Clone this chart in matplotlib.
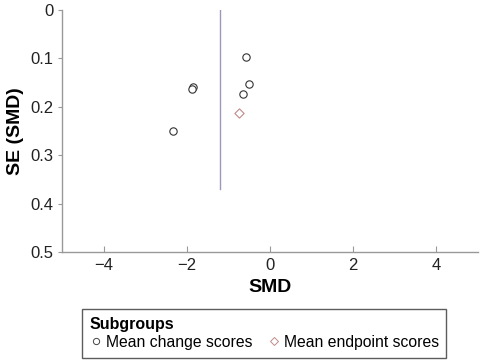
import matplotlib
matplotlib.use("Agg")
import matplotlib.pyplot as plt
from matplotlib.lines import Line2D

plt.rcParams['font.family'] = ['Liberation Sans', 'DejaVu Sans']

change_smd = [-0.58, -1.85, -1.87, -0.51, -0.64, -2.32]
change_se = [0.097, 0.160, 0.164, 0.153, 0.174, 0.249]
endpoint_smd = [-0.75]
endpoint_se = [0.212]
pooled_smd = -1.19
line_se_max = 0.37
xticks = [-4, -2, 0, 2, 4]
yticks = [0, 0.1, 0.2, 0.3, 0.4, 0.5]

fig = plt.figure(figsize=(4.8, 3.6), dpi=100)
ax = fig.add_axes([0.129, 0.30, 0.867, 0.672])

ax.plot([pooled_smd, pooled_smd], [0, line_se_max], color='#9a9ab8', lw=1.0, zorder=1)
ax.scatter(change_smd, change_se, marker='o', s=28, facecolors='white',
           edgecolors='#333333', linewidths=0.8, zorder=3)
ax.scatter(endpoint_smd, endpoint_se, marker='D', s=22, facecolors='white',
           edgecolors='#c08a8a', linewidths=0.8, zorder=3)

ax.set_xlim(-5, 5)
ax.set_ylim(0.5, 0)
ax.set_xticks(xticks)
ax.set_xticklabels(['\u22124', '\u22122', '0', '2', '4'])
ax.set_yticks(yticks)
ax.set_yticklabels(['0', '0.1', '0.2', '0.3', '0.4', '0.5'])
for s in ['top', 'right']:
    ax.spines[s].set_visible(False)
for s in ['left', 'bottom']:
    ax.spines[s].set_color('#999999')
    ax.spines[s].set_linewidth(1.0)
ax.tick_params(axis='x', direction='in', length=4, color='#999999', labelsize=12,
               labelcolor='#222222', pad=4)
ax.tick_params(axis='y', direction='out', length=3, color='#999999', labelsize=12,
               labelcolor='#222222', pad=3)
ax.set_xlabel('SMD', fontsize=14, fontweight='bold', labelpad=5)
ax.set_ylabel('SE (SMD)', fontsize=14, fontweight='bold', labelpad=5)

handles = [
    Line2D([], [], marker='o', ls='none', markerfacecolor='white', markeredgecolor='#444444',
           markersize=4.5, markeredgewidth=0.7),
    Line2D([], [], marker='D', ls='none', markerfacecolor='white', markeredgecolor='#c08a8a',
           markersize=4.0, markeredgewidth=0.7),
]
leg = fig.legend(handles, ['Mean change scores', 'Mean endpoint scores'], ncol=2,
                 title='Subgroups', loc='lower left', bbox_to_anchor=(0.171, 0.006),
                 fontsize=11.3, title_fontproperties={'weight': 'bold', 'size': 11.5},
                 alignment='left', frameon=True, fancybox=False, handletextpad=0.2,
                 handlelength=0.8, columnspacing=1.0, borderpad=0.5, borderaxespad=0,
                 labelspacing=0.2)
leg.get_frame().set_edgecolor('#333333')
leg.get_frame().set_linewidth(1.0)

fig.savefig('out.png', dpi=100)
